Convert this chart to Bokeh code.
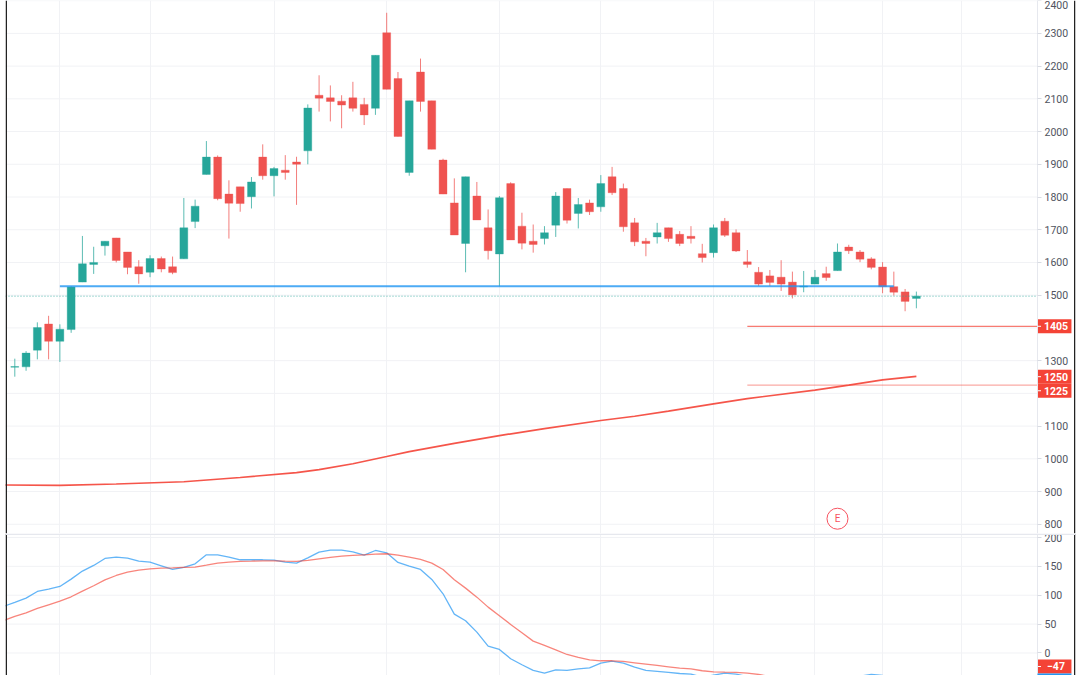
from bokeh.core.properties import value
from bokeh.embed import file_html
from bokeh.resources import INLINE
from bokeh.layouts import column
from bokeh.models import (ColumnDataSource, FixedTicker, Grid, LinearAxis, Label,
                          BoxAnnotation, Range1d)
from bokeh.plotting import figure

opens = [1280, 1281, 1332, 1412, 1359, 1395, 1540, 1594, 1651, 1675, 1632, 1587, 1570, 1612, 1587, 1611, 1725,
         1869, 1922, 1809, 1831, 1801, 1922, 1865, 1882, 1907, 1941, 2111, 2103, 2093, 2103, 2083, 2071, 2302,
         2162, 1875, 2182, 2094, 1913, 1782, 1658, 1803, 1706, 1626, 1841, 1711, 1665, 1673, 1714, 1826, 1750,
         1782, 1770, 1862, 1826, 1721, 1665, 1678, 1706, 1686, 1680, 1627, 1630, 1726, 1691, 1602, 1570, 1559,
         1555, 1540, 1525, 1534, 1566, 1575, 1647, 1632, 1611, 1586, 1526, 1510, 1490]
highs = [1306, 1329, 1417, 1437, 1411, 1527, 1681, 1648, 1665, 1675, 1632, 1607, 1622, 1618, 1618, 1797, 1792,
         1971, 1927, 1851, 1831, 1861, 1961, 1892, 1928, 1923, 2083, 2172, 2141, 2111, 2152, 2103, 2233, 2363,
         2182, 2094, 2223, 2094, 1917, 1857, 1862, 1846, 1762, 1803, 1845, 1752, 1716, 1711, 1815, 1826, 1797,
         1792, 1867, 1892, 1841, 1736, 1675, 1721, 1706, 1696, 1711, 1657, 1716, 1736, 1701, 1638, 1586, 1577,
         1607, 1572, 1574, 1577, 1587, 1658, 1654, 1638, 1616, 1601, 1572, 1519, 1511]
lows = [1251, 1269, 1304, 1304, 1296, 1385, 1540, 1565, 1621, 1600, 1564, 1535, 1555, 1570, 1564, 1611, 1705,
        1869, 1790, 1673, 1755, 1765, 1853, 1802, 1853, 1776, 1900, 2061, 2031, 2010, 2061, 2020, 2051, 2129,
        1985, 1865, 2061, 1946, 1809, 1684, 1570, 1730, 1609, 1527, 1669, 1640, 1630, 1655, 1678, 1719, 1704,
        1745, 1755, 1806, 1694, 1650, 1619, 1658, 1663, 1650, 1658, 1600, 1615, 1678, 1632, 1584, 1528, 1528,
        1513, 1490, 1509, 1534, 1544, 1575, 1626, 1601, 1579, 1506, 1499, 1451, 1460]
closes = [1282, 1323, 1401, 1359, 1396, 1525, 1596, 1600, 1665, 1606, 1585, 1565, 1612, 1580, 1569, 1706, 1772,
          1922, 1795, 1781, 1780, 1846, 1865, 1887, 1875, 1900, 2072, 2102, 2092, 2081, 2071, 2051, 2233, 2129,
          1985, 2094, 2092, 1946, 1809, 1684, 1862, 1730, 1636, 1798, 1669, 1659, 1655, 1691, 1803, 1729, 1777,
          1755, 1841, 1813, 1709, 1663, 1658, 1691, 1673, 1658, 1673, 1615, 1706, 1683, 1635, 1594, 1534, 1539,
          1534, 1501, 1528, 1555, 1554, 1632, 1636, 1610, 1585, 1526, 1509, 1481, 1497]

ma_bars = [-1, 4, 9, 15, 20, 25, 27, 30, 33, 35, 39, 43, 47, 52, 55, 58, 62, 65, 71, 74, 77, 80]
ma_vals = [920, 919, 923, 930, 943, 958, 967, 985, 1007, 1022, 1047, 1071, 1092, 1117, 1130, 1146, 1168, 1184,
           1210, 1225, 1241, 1252]

cci_bars = list(range(-1, 81))
cci_blue = [80.6, 87.5, 95, 106.5, 110.6, 115.2, 127.9, 141.8, 151.6, 163.7, 166, 164.3, 159, 157.3, 151, 144.6,
            148.1, 154.4, 170, 170, 166, 161.4, 161.4, 161.4, 160.8, 157.3, 155.6, 164.8, 174.6, 178.1, 178.1,
            175.2, 169.5, 177.5, 173.5, 156.8, 150.4, 144.6, 127.3, 102.5, 67.3, 55.7, 36.1, 11.9, 6.1, -10,
            -20.4, -30.2, -34.9, -29.1, -30.3, -27.4, -25.7, -17.6, -14.1, -17.6, -24.5, -30.3, -32, -33.7,
            -35.5, -36.6, -41.8, -38.4, -35, -36.6, -40.9, -46, -52, -58, -60, -56, -50, -46, -44, -43, -40.1,
            -37.2, -38.9, -50, -62, -74]
cci_red = [56.3, 63.2, 69.6, 77.1, 83.5, 89.8, 97.3, 107.1, 116.4, 126.7, 134.2, 140, 143.5, 145.8, 147, 147.5,
           148.1, 148.7, 152.1, 155.6, 157.3, 158.5, 159, 159.6, 159.6, 159, 158.5, 160.2, 163.1, 165.4, 167.7,
           168.9, 170, 171.2, 171.8, 169.5, 166, 162, 155.6, 144.6, 126.7, 112.3, 96.7, 79.4, 64.4, 49.4, 35,
           20.5, 13, 5.5, -2.6, -7.8, -11.8, -13.5, -13.5, -14.7, -17, -19.3, -21.6, -23.9, -26.2, -27.4, -30.8,
           -32.6, -33.2, -33.7, -34.9, -37.2, -40.7, -41.5, -42, -42.5, -43.1, -43.4, -44, -44.2, -44.9, -45.3,
           -45.4, -45.8, -46.2, -47]

price_grid_levels = list(range(800, 2500, 100))
price_axis_labels = [v for v in price_grid_levels if v not in (1200, 1400)]
cci_ticks = [0, 50, 100, 150, 200]
time_grid_bars = [4, 12, 23, 33, 43, 52, 62, 71, 77, 84]

support_level = 1527
last_price = 1497
target_level_a = 1405
target_level_b = 1225

UP = "#26a69a"
DOWN = "#ef5350"
GRID = "#f1f2f5"
TEXT = "#50535e"
FONT = "Roboto"
RED_TAG = "#f44336"

BAR_PX = 11.27          # horizontal pixels per bar
X_START = -0.825        # bar index at the left frame edge
X_AXIS = 90.75          # bar index of the price axis
X_TAG_END = 93.76       # right end of the value tags
X_END = 94.12           # bar index at the right frame edge
P_TOP, P_BOTTOM = 2400.5, 771.8
C_TOP, C_BOTTOM = 206.9, -39
H1, H2 = 533, 142
P_PX = 0.3275           # pixels per price unit
C_PX = 0.5775           # pixels per indicator unit


def base(height, y0, y1, ticks, grid_levels):
    p = figure(width=1080, height=height, frame_width=1070, frame_height=height,
               x_range=Range1d(X_START, X_END), y_range=Range1d(y0, y1),
               x_axis_location=None, y_axis_location=None,
               output_backend="svg", toolbar_location=None,
               min_border_left=5, min_border_right=5, min_border_top=0, min_border_bottom=0,
               outline_line_color=None, background_fill_color="white", border_fill_color="white")
    p.grid.visible = False
    ax = LinearAxis(ticker=FixedTicker(ticks=ticks), fixed_location=X_AXIS,
                    axis_line_color="#e6e8ee", axis_line_width=1,
                    major_tick_line_color="#d8dbe2", major_tick_out=4, major_tick_in=0,
                    minor_tick_line_color=None,
                    major_label_text_font=FONT, major_label_text_font_size="10.5px",
                    major_label_text_color=TEXT, major_label_standoff=3)
    p.add_layout(ax, "right")
    p.add_layout(Grid(dimension=0, ticker=FixedTicker(ticks=time_grid_bars),
                      grid_line_color=GRID, grid_line_width=1, bounds=(X_START, X_AXIS)), "center")
    p.segment([X_START] * len(grid_levels), grid_levels, [X_AXIS] * len(grid_levels), grid_levels,
              line_color=GRID, line_width=1, level="underlay")
    p.add_layout(BoxAnnotation(left=X_START, right=X_START + 1.5 / BAR_PX, fill_color="#222222",
                               fill_alpha=1, line_color=None))
    p.add_layout(BoxAnnotation(left=X_END - 1.5 / BAR_PX, right=X_END, fill_color="#222222",
                               fill_alpha=1, line_color=None))
    return p


def tag(p, y, half_h, text):
    p.add_layout(BoxAnnotation(left=X_AXIS, right=X_TAG_END, top=y + half_h, bottom=y - half_h,
                               fill_color=RED_TAG, fill_alpha=1, line_color=None, level="underlay"))
    p.segment([X_AXIS], [y], [X_AXIS + 3.5 / BAR_PX], [y], line_color="white", line_width=1)
    p.add_layout(Label(x=(X_AXIS + X_TAG_END) / 2 + 1.5 / BAR_PX, y=y, text=text,
                       text_color="white", text_font=FONT, text_font_size="10.5px",
                       text_font_style="bold", text_baseline="middle", text_align="center"))


p1 = base(H1, P_BOTTOM, P_TOP, price_axis_labels, price_grid_levels)

bars = list(range(len(opens)))
src = ColumnDataSource(dict(
    bar=bars, o=opens, h=highs, l=lows, c=closes,
    color=[UP if c >= o else DOWN for o, c in zip(opens, closes)],
))
p1.segment("bar", "h", "bar", "l", source=src, line_color="color", line_width=1, line_alpha=0.75)
p1.vbar("bar", 0.7, "o", "c", source=src, fill_color="color", line_color="color", line_alpha=0.35, line_width=1)

p1.line([X_START, X_AXIS], [last_price, last_price], line_color=UP, line_width=1,
        line_dash=[1, 2], line_alpha=0.8)
p1.line([4, 78], [support_level, support_level], line_color="#2196f3", line_width=2, line_alpha=0.8)
p1.line([65, X_AXIS], [target_level_a, target_level_a], line_color=RED_TAG, line_width=1.2, line_alpha=0.7)
p1.line([65, X_AXIS], [target_level_b, target_level_b], line_color=RED_TAG, line_width=1.2, line_alpha=0.45)
p1.line(ma_bars, ma_vals, line_color=RED_TAG, line_width=1.7, line_alpha=0.9)

p1.scatter([73], [817], marker="circle", size=21, fill_color="white", line_color="#f7525f", line_width=1)
p1.text([73], [817], text=["E"], text_align="center", text_baseline="middle",
        text_font=value(FONT), text_font_size="10px", text_color="#f7525f")

tag(p1, target_level_a, 7 / P_PX, "1405")
tag(p1, 1251, 7 / P_PX, "1250")
tag(p1, 1208, 7 / P_PX, "1225")

p2 = base(H2, C_BOTTOM, C_TOP, cci_ticks, cci_ticks)
p2.add_layout(BoxAnnotation(left=X_START, right=X_END, top=C_TOP, bottom=C_TOP - 1.5 / C_PX,
                            fill_color="#e6e8ee", fill_alpha=1, line_color=None))
p2.line(cci_bars, cci_blue, line_color="#2196f3", line_width=1.3, line_alpha=0.7)
p2.line(cci_bars, cci_red, line_color=RED_TAG, line_width=1.3, line_alpha=0.65)
p2.add_layout(BoxAnnotation(left=X_AXIS, right=X_TAG_END, top=-35.5, bottom=C_BOTTOM,
                            fill_color="#2196f3", fill_alpha=1, line_color=None))
tag(p2, -23.4, 7 / C_PX, "\u221247")

layout = column(p1, p2, spacing=0)
open("out.html", "w").write(file_html(layout, INLINE))
